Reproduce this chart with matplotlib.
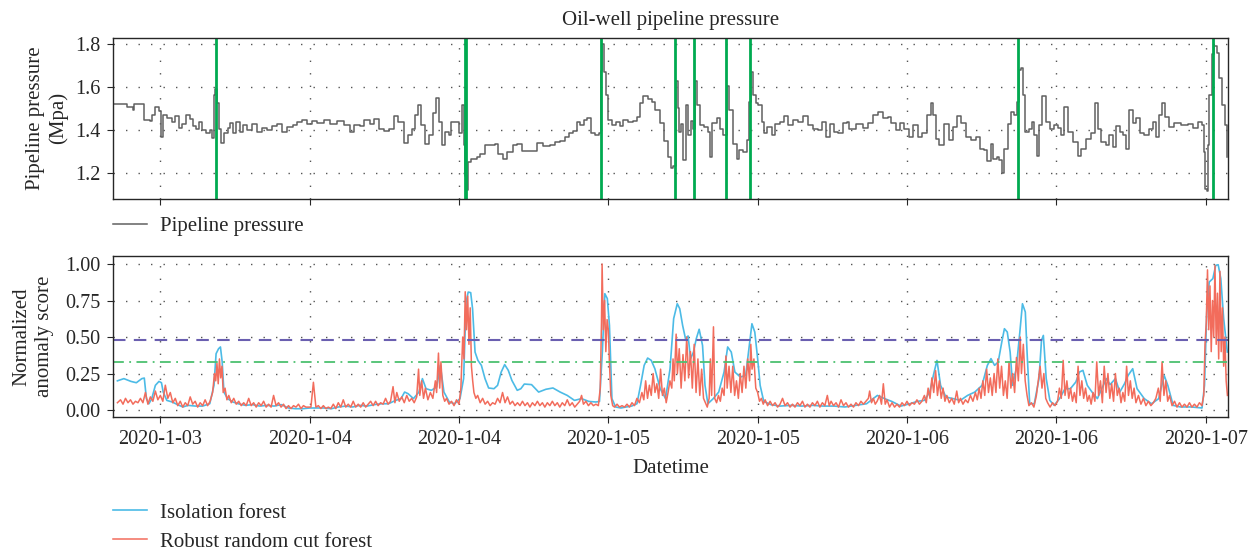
import numpy as np
import pandas as pd
import matplotlib
matplotlib.use('Agg')
import matplotlib.pyplot as plt
import matplotlib.dates as mdates
from matplotlib.ticker import FuncFormatter

plt.rcParams['font.family'] = ['Liberation Serif', 'DejaVu Serif']
plt.rcParams['font.size'] = 15
plt.rcParams['text.color'] = '#262626'
plt.rcParams['axes.labelcolor'] = '#262626'
plt.rcParams['xtick.color'] = '#262626'
plt.rcParams['ytick.color'] = '#262626'

t0 = pd.Timestamp('2020-01-03')

## DATA (hours after 2020-01-03 00:00)

# pipeline pressure (MPa)
p_hours = [8.25, 9.19, 9.32, 9.72, 9.80, 9.91, 10.53, 10.66, 11.14, 11.33, 11.60, 11.87, 12.05, 12.19,
           12.54, 12.94, 13.21, 13.47, 13.74, 14.09, 14.36, 14.63, 14.89, 15.08, 15.35, 15.70, 15.96,
           16.15, 16.29, 16.42, 16.55, 16.71, 16.90, 17.14, 17.41, 17.63, 17.84, 18.11, 18.38, 18.64,
           18.96, 19.37, 19.77, 20.17, 20.57, 20.97, 21.38, 21.78, 22.18, 22.66, 22.98, 23.38, 23.79,
           24.19, 24.59, 25.13, 25.66, 26.20, 26.73, 27.22, 27.54, 28.02, 28.39, 28.82, 29.20, 29.55,
           29.95, 30.35, 30.75, 31.09, 31.56, 31.90, 32.23, 32.49, 32.68, 32.95, 33.30, 33.62, 33.89,
           34.13, 34.37, 34.66, 34.90, 35.17, 35.36, 35.71, 35.98, 36.24, 36.38, 36.51, 36.62, 36.75,
           37.00, 37.45, 37.69, 38.09, 38.49, 38.89, 39.16, 39.51, 39.83, 40.37, 40.69, 41.04, 41.70,
           42.24, 42.78, 43.31, 43.71, 44.12, 44.52, 44.87, 45.19, 45.46, 45.72, 46.04, 46.31, 46.58,
           46.93, 47.28, 47.38, 47.52, 47.65, 47.81, 48.00, 48.27, 48.62, 48.94, 49.21, 49.61, 50.01,
           50.28, 50.54, 50.81, 51.21, 51.48, 51.75, 52.15, 52.47, 52.82, 53.01, 53.22, 53.44, 53.60,
           53.71, 53.84, 54.03, 54.24, 54.43, 54.62, 54.78, 54.97, 55.15, 55.37, 55.69, 55.98, 56.17,
           56.36, 56.71, 56.97, 57.24, 57.51, 57.72, 58.04, 58.31, 58.53, 58.85, 59.12, 59.28, 59.44,
           59.60, 59.87, 60.05, 60.32, 60.51, 60.72, 61.13, 61.39, 61.80, 62.12, 62.47, 62.87, 63.27,
           63.67, 64.07, 64.47, 64.88, 65.14, 65.49, 65.81, 66.14, 66.48, 66.83, 67.15, 67.37, 67.90,
           68.44, 68.84, 69.29, 69.64, 70.04, 70.45, 70.71, 71.12, 71.44, 71.79, 72.13, 72.51, 72.86,
           73.21, 73.58, 73.93, 74.12, 74.33, 74.60, 75.00, 75.35, 75.67, 75.99, 76.34, 76.74, 77.14,
           77.55, 77.87, 78.22, 78.40, 78.75, 78.94, 79.21, 79.42, 79.61, 79.82, 80.09, 80.36, 80.62,
           80.81, 80.97, 81.13, 81.29, 81.51, 81.78, 82.04, 82.23, 82.45, 82.63, 82.85, 83.17, 83.49,
           83.84, 84.11, 84.38, 84.64, 84.91, 85.31, 85.71, 85.98, 86.39, 86.79, 87.14, 87.33, 87.59,
           87.99, 88.26, 88.59, 88.80, 89.12, 89.39, 89.60, 89.87, 90.20, 90.40, 90.72, 91.07, 91.48,
           91.80, 92.01, 92.28, 92.49, 92.76, 93.08, 93.48, 94.02, 94.55, 94.96, 95.36, 95.71, 95.84,
           95.92, 96.08, 96.16, 96.30, 96.51, 96.70, 96.89, 97.10, 97.31, 97.53, 97.69]
pressure = [1.52, 1.52, 1.509, 1.509, 1.493, 1.52, 1.52, 1.446, 1.441, 1.469, 1.509, 1.488, 1.367, 1.469,
            1.457, 1.435, 1.466, 1.409, 1.425, 1.469, 1.45, 1.419, 1.406, 1.438, 1.398, 1.387, 1.398,
            1.362, 1.564, 1.592, 1.524, 1.403, 1.34, 1.387, 1.409, 1.43, 1.383, 1.435, 1.391, 1.422,
            1.398, 1.425, 1.391, 1.409, 1.398, 1.419, 1.425, 1.391, 1.414, 1.422, 1.438, 1.444, 1.428,
            1.441, 1.431, 1.444, 1.428, 1.441, 1.422, 1.391, 1.422, 1.419, 1.447, 1.425, 1.45, 1.406,
            1.394, 1.406, 1.466, 1.435, 1.34, 1.375, 1.406, 1.469, 1.517, 1.422, 1.335, 1.378, 1.477,
            1.548, 1.435, 1.331, 1.391, 1.375, 1.435, 1.435, 1.383, 1.517, 1.328, 1.186, 1.12, 1.249,
            1.265, 1.272, 1.288, 1.328, 1.331, 1.335, 1.288, 1.265, 1.296, 1.331, 1.335, 1.299, 1.299,
            1.34, 1.324, 1.331, 1.343, 1.346, 1.367, 1.383, 1.394, 1.435, 1.422, 1.446, 1.457, 1.383,
            1.375, 1.383, 1.674, 1.80, 1.671, 1.564, 1.446, 1.422, 1.435, 1.419, 1.446, 1.438, 1.441,
            1.461, 1.524, 1.556, 1.545, 1.532, 1.493, 1.43, 1.346, 1.272, 1.22, 1.233, 1.627, 1.501,
            1.391, 1.425, 1.261, 1.517, 1.375, 1.441, 1.406, 1.627, 1.517, 1.422, 1.414, 1.391, 1.272,
            1.43, 1.454, 1.406, 1.375, 1.603, 1.493, 1.335, 1.265, 1.304, 1.296, 1.351, 1.532, 1.671,
            1.564, 1.524, 1.517, 1.438, 1.383, 1.414, 1.378, 1.425, 1.435, 1.466, 1.422, 1.446, 1.435,
            1.466, 1.422, 1.403, 1.398, 1.435, 1.367, 1.425, 1.391, 1.383, 1.43, 1.435, 1.403, 1.425,
            1.409, 1.43, 1.469, 1.485, 1.454, 1.461, 1.43, 1.398, 1.43, 1.406, 1.367, 1.422, 1.367,
            1.387, 1.469, 1.524, 1.469, 1.359, 1.328, 1.425, 1.351, 1.414, 1.466, 1.43, 1.367, 1.351,
            1.367, 1.312, 1.304, 1.252, 1.335, 1.265, 1.272, 1.257, 1.20, 1.312, 1.425, 1.482, 1.469,
            1.532, 1.682, 1.69, 1.564, 1.391, 1.406, 1.438, 1.375, 1.277, 1.422, 1.556, 1.438, 1.406,
            1.422, 1.409, 1.375, 1.509, 1.391, 1.343, 1.28, 1.312, 1.359, 1.383, 1.524, 1.406, 1.343,
            1.328, 1.378, 1.32, 1.419, 1.391, 1.375, 1.312, 1.493, 1.43, 1.457, 1.383, 1.375, 1.403,
            1.435, 1.367, 1.469, 1.524, 1.461, 1.414, 1.43, 1.422, 1.425, 1.409, 1.435, 1.422, 1.296,
            1.123, 1.115, 1.328, 1.564, 1.753, 1.792, 1.76, 1.643, 1.517, 1.422, 1.272]

# detected anomalies
anomaly_hours = [16.49, 36.47, 36.60, 47.45, 53.39, 54.89, 57.48, 59.38, 80.92, 96.58]

# isolation forest score
if_hours = [8.55, 9.07, 9.64, 10.07, 10.51, 10.71, 10.88, 11.08, 11.31, 11.60, 11.89, 12.09, 12.23, 12.52,
            12.95, 13.38, 13.81, 14.24, 14.82, 15.39, 15.97, 16.31, 16.48, 16.68, 16.83, 16.97, 17.11,
            17.40, 17.83, 18.26, 18.84, 19.41, 19.99, 20.56, 21.14, 21.71, 22.29, 22.86, 23.44, 24.01,
            24.59, 25.16, 25.74, 26.31, 26.89, 27.46, 28.03, 28.61, 29.18, 29.76, 30.33, 30.91, 31.34,
            31.63, 31.91, 32.34, 32.78, 33.06, 33.35, 33.78, 34.21, 34.50, 34.79, 35.22, 35.65, 36.08,
            36.37, 36.57, 36.74, 36.94, 37.09, 37.29, 37.52, 37.80, 38.09, 38.38, 38.81, 39.10, 39.39,
            39.67, 39.96, 40.25, 40.68, 40.97, 41.25, 41.83, 42.40, 42.98, 43.55, 44.13, 44.70, 45.28,
            45.85, 46.43, 47.00, 47.29, 47.52, 47.72, 47.92, 48.09, 48.29, 48.58, 49.01, 49.44, 49.87,
            50.30, 50.59, 50.88, 51.16, 51.45, 51.74, 52.17, 52.60, 52.96, 53.25, 53.54, 53.74, 53.97,
            54.20, 54.41, 54.61, 54.84, 55.07, 55.30, 55.57, 55.77, 56.00, 56.43, 56.87, 57.30, 57.59,
            57.88, 58.17, 58.61, 59.04, 59.33, 59.54, 59.77, 60.00, 60.20, 60.49, 61.07, 61.80, 62.67,
            63.54, 64.41, 65.28, 66.14, 67.01, 67.88, 68.75, 69.62, 70.20, 70.78, 71.51, 72.23, 72.81,
            73.39, 73.83, 74.12, 74.41, 74.70, 75.13, 75.71, 76.29, 76.87, 77.45, 78.03, 78.46, 78.75,
            79.04, 79.33, 79.62, 79.83, 80.06, 80.29, 80.49, 80.78, 81.07, 81.28, 81.51, 81.65, 81.86,
            82.23, 82.61, 82.81, 82.96, 83.19, 83.48, 83.83, 84.26, 84.70, 85.13, 85.57, 85.86, 86.14,
            86.49, 86.87, 87.30, 87.65, 88.03, 88.32, 88.75, 89.10, 89.48, 89.77, 90.14, 90.49, 91.07,
            91.65, 92.23, 92.67, 92.96, 93.39, 93.97, 94.84, 95.71, 95.91, 96.09, 96.29, 96.58, 96.81,
            97.01, 97.22, 97.45, 97.74]
if_score = [0.20, 0.215, 0.196, 0.187, 0.215, 0.219, 0.078, 0.043, 0.078, 0.169, 0.196, 0.187, 0.123, 0.066,
            0.055, 0.037, 0.021, 0.032, 0.027, 0.027, 0.043, 0.169, 0.386, 0.42, 0.432, 0.329, 0.123,
            0.078, 0.055, 0.043, 0.032, 0.037, 0.027, 0.032, 0.027, 0.037, 0.014, 0.009, 0.009, 0.014,
            0.014, 0.014, 0.009, 0.021, 0.027, 0.021, 0.032, 0.027, 0.037, 0.043, 0.043, 0.066, 0.078,
            0.123, 0.112, 0.078, 0.123, 0.215, 0.146, 0.135, 0.158, 0.306, 0.123, 0.055, 0.043, 0.078,
            0.215, 0.74, 0.808, 0.804, 0.694, 0.397, 0.34, 0.306, 0.215, 0.151, 0.146, 0.169, 0.26,
            0.311, 0.272, 0.203, 0.135, 0.146, 0.178, 0.174, 0.123, 0.142, 0.151, 0.123, 0.10, 0.066,
            0.078, 0.059, 0.055, 0.059, 0.397, 0.797, 0.763, 0.58, 0.078, 0.021, 0.014, 0.021, 0.027,
            0.043, 0.169, 0.306, 0.356, 0.34, 0.283, 0.146, 0.078, 0.283, 0.626, 0.728, 0.694, 0.58,
            0.489, 0.507, 0.352, 0.397, 0.489, 0.553, 0.443, 0.169, 0.043, 0.078, 0.123, 0.26, 0.432,
            0.397, 0.26, 0.226, 0.237, 0.443, 0.591, 0.534, 0.352, 0.169, 0.059, 0.037, 0.027, 0.032,
            0.027, 0.032, 0.027, 0.027, 0.021, 0.032, 0.043, 0.10, 0.078, 0.059, 0.027, 0.043, 0.059,
            0.066, 0.123, 0.237, 0.34, 0.169, 0.089, 0.078, 0.066, 0.10, 0.123, 0.169, 0.306, 0.352,
            0.306, 0.329, 0.466, 0.557, 0.534, 0.397, 0.169, 0.283, 0.534, 0.728, 0.671, 0.397, 0.043,
            0.043, 0.215, 0.477, 0.511, 0.215, 0.066, 0.032, 0.078, 0.146, 0.146, 0.192, 0.26, 0.272,
            0.169, 0.123, 0.078, 0.146, 0.215, 0.174, 0.215, 0.123, 0.18, 0.237, 0.283, 0.146, 0.078,
            0.043, 0.078, 0.237, 0.169, 0.032, 0.021, 0.021, 0.014, 0.169, 0.671, 0.877, 0.90, 0.991,
            0.995, 0.90, 0.626, 0.397]

# robust random cut forest score
rrcf_hours = [8.55, 8.8, 9.0, 9.2, 9.4, 9.6, 9.8, 10.0, 10.2, 10.4, 10.6, 10.8, 11.0, 11.2, 11.4, 11.6,
              11.8, 12.0, 12.2, 12.4, 12.6, 12.8, 13.0, 13.2, 13.4, 13.6, 13.8, 14.0, 14.2, 14.4, 14.6,
              14.8, 15.0, 15.2, 15.4, 15.6, 15.8, 16.0, 16.2, 16.35, 16.45, 16.55, 16.65, 16.75, 16.85,
              16.95, 17.05, 17.2, 17.35, 17.5, 17.7, 17.9, 18.1, 18.3, 18.5, 18.7, 18.9, 19.1, 19.3,
              19.5, 19.7, 19.9, 20.1, 20.3, 20.5, 20.7, 20.9, 21.1, 21.3, 21.5, 21.7, 21.9, 22.1, 22.3,
              22.5, 22.7, 22.9, 23.1, 23.3, 23.5, 23.7, 23.9, 24.1, 24.3, 24.5, 24.7, 24.9, 25.1, 25.3,
              25.5, 25.7, 25.9, 26.1, 26.3, 26.5, 26.7, 26.9, 27.1, 27.3, 27.5, 27.7, 27.9, 28.1, 28.3,
              28.5, 28.7, 28.9, 29.1, 29.3, 29.5, 29.7, 29.9, 30.1, 30.3, 30.5, 30.7, 30.85, 31.0, 31.2,
              31.4, 31.6, 31.8, 32.0, 32.2, 32.4, 32.6, 32.75, 32.85, 33.0, 33.15, 33.3, 33.5, 33.7,
              33.9, 34.1, 34.2, 34.35, 34.45, 34.55, 34.7, 34.85, 35.0, 35.2, 35.4, 35.6, 35.8, 36.0,
              36.15, 36.3, 36.4, 36.5, 36.6, 36.7, 36.8, 36.9, 37.0, 37.1, 37.2, 37.35, 37.5, 37.7,
              37.9, 38.1, 38.3, 38.5, 38.7, 38.9, 39.1, 39.3, 39.5, 39.7, 39.9, 40.1, 40.3, 40.5, 40.7,
              40.9, 41.1, 41.3, 41.5, 41.7, 41.9, 42.1, 42.3, 42.5, 42.7, 42.9, 43.1, 43.3, 43.5, 43.7,
              43.9, 44.1, 44.3, 44.5, 44.7, 44.9, 45.1, 45.3, 45.5, 45.7, 45.85, 46.0, 46.2, 46.4, 46.6,
              46.8, 47.0, 47.2, 47.35, 47.45, 47.5, 47.6, 47.7, 47.8, 47.9, 48.0, 48.1, 48.2, 48.35,
              48.5, 48.7, 48.9, 49.1, 49.3, 49.5, 49.7, 49.9, 50.1, 50.3, 50.5, 50.7, 50.85, 51.0, 51.15,
              51.3, 51.45, 51.6, 51.75, 51.9, 52.05, 52.2, 52.35, 52.5, 52.65, 52.8, 52.95, 53.1, 53.2,
              53.3, 53.45, 53.55, 53.7, 53.85, 54.0, 54.15, 54.3, 54.45, 54.6, 54.75, 54.9, 55.05, 55.2,
              55.35, 55.5, 55.65, 55.8, 55.95, 56.1, 56.2, 56.3, 56.45, 56.55, 56.7, 56.85, 57.0, 57.15,
              57.3, 57.45, 57.55, 57.7, 57.85, 58.0, 58.15, 58.3, 58.45, 58.6, 58.75, 58.9, 59.05, 59.2,
              59.35, 59.45, 59.55, 59.7, 59.85, 60.0, 60.15, 60.3, 60.45, 60.6, 60.8, 61.0, 61.2, 61.4,
              61.6, 61.8, 62.0, 62.2, 62.4, 62.6, 62.8, 63.0, 63.2, 63.4, 63.6, 63.8, 64.0, 64.2, 64.4,
              64.6, 64.8, 65.0, 65.2, 65.4, 65.6, 65.75, 65.9, 66.1, 66.3, 66.5, 66.7, 66.9, 67.1, 67.3,
              67.5, 67.7, 67.9, 68.1, 68.3, 68.5, 68.7, 68.9, 69.0, 69.15, 69.3, 69.45, 69.6, 69.8, 69.95,
              70.1, 70.25, 70.4, 70.6, 70.8, 71.0, 71.2, 71.4, 71.6, 71.8, 72.0, 72.2, 72.4, 72.6, 72.8,
              73.0, 73.2, 73.4, 73.55, 73.7, 73.85, 74.0, 74.15, 74.3, 74.45, 74.6, 74.75, 74.9, 75.05,
              75.2, 75.4, 75.6, 75.8, 76.0, 76.15, 76.3, 76.5, 76.7, 76.9, 77.1, 77.3, 77.5, 77.65, 77.8,
              77.95, 78.1, 78.25, 78.4, 78.55, 78.7, 78.85, 79.0, 79.15, 79.3, 79.45, 79.6, 79.75, 79.9,
              80.05, 80.2, 80.35, 80.5, 80.65, 80.8, 80.95, 81.1, 81.2, 81.35, 81.5, 81.65, 81.8, 82.0,
              82.2, 82.4, 82.55, 82.7, 82.85, 83.0, 83.15, 83.3, 83.5, 83.7, 83.9, 84.1, 84.25, 84.4,
              84.55, 84.7, 84.85, 85.0, 85.15, 85.3, 85.45, 85.6, 85.75, 85.9, 86.05, 86.2, 86.35, 86.5,
              86.65, 86.8, 86.95, 87.1, 87.25, 87.4, 87.55, 87.7, 87.85, 88.0, 88.15, 88.3, 88.45, 88.6,
              88.75, 88.9, 89.05, 89.2, 89.35, 89.5, 89.65, 89.8, 89.95, 90.1, 90.25, 90.4, 90.6, 90.8,
              91.0, 91.2, 91.4, 91.6, 91.8, 92.0, 92.2, 92.35, 92.5, 92.65, 92.8, 92.95, 93.1, 93.3,
              93.5, 93.7, 93.9, 94.1, 94.3, 94.5, 94.7, 94.9, 95.1, 95.3, 95.5, 95.7, 95.85, 95.95,
              96.05, 96.15, 96.25, 96.35, 96.45, 96.55, 96.65, 96.75, 96.85, 96.95, 97.05, 97.15, 97.25,
              97.35, 97.45, 97.55, 97.65, 97.75]
rrcf_score = [0.05, 0.07, 0.04, 0.08, 0.05, 0.07, 0.04, 0.06, 0.05, 0.08, 0.05, 0.12, 0.04, 0.09, 0.06, 0.13,
              0.07, 0.10, 0.06, 0.17, 0.08, 0.12, 0.05, 0.08, 0.03, 0.06, 0.02, 0.05, 0.03, 0.09, 0.04,
              0.06, 0.02, 0.05, 0.03, 0.07, 0.03, 0.06, 0.12, 0.25, 0.20, 0.32, 0.18, 0.35, 0.22,
              0.30, 0.12, 0.15, 0.07, 0.10, 0.05, 0.08, 0.04, 0.06, 0.03, 0.05, 0.03, 0.08, 0.03,
              0.05, 0.02, 0.05, 0.03, 0.06, 0.02, 0.04, 0.02, 0.10, 0.03, 0.05, 0.02, 0.04, 0.01, 0.03,
              0.01, 0.03, 0.02, 0.04, 0.01, 0.03, 0.02, 0.02, 0.02, 0.19, 0.02, 0.03, 0.01, 0.03, 0.01,
              0.02, 0.01, 0.04, 0.01, 0.05, 0.02, 0.07, 0.02, 0.04, 0.02, 0.06, 0.02, 0.04, 0.02, 0.05,
              0.02, 0.04, 0.06, 0.03, 0.06, 0.03, 0.05, 0.04, 0.08, 0.04, 0.06, 0.16, 0.05, 0.12, 0.06,
              0.09, 0.05, 0.10, 0.06, 0.08, 0.05, 0.09, 0.28, 0.10, 0.20, 0.08, 0.15, 0.07, 0.12,
              0.08, 0.20, 0.12, 0.39, 0.15, 0.33, 0.10, 0.06, 0.08, 0.04, 0.06, 0.03, 0.07, 0.04,
              0.15, 0.50, 0.35, 0.81, 0.55, 0.78, 0.45, 0.70, 0.30, 0.20, 0.12, 0.08, 0.10, 0.05,
              0.08, 0.04, 0.06, 0.03, 0.05, 0.04, 0.08, 0.05, 0.12, 0.05, 0.09, 0.04, 0.06, 0.03, 0.05,
              0.03, 0.06, 0.03, 0.05, 0.02, 0.05, 0.03, 0.06, 0.03, 0.05, 0.02, 0.05, 0.03, 0.06, 0.03,
              0.05, 0.02, 0.05, 0.03, 0.07, 0.03, 0.05, 0.02, 0.04, 0.06, 0.10, 0.04, 0.06, 0.03, 0.05,
              0.03, 0.04, 0.03, 0.15, 0.60, 1.00, 0.55, 0.75, 0.40, 0.62, 0.55, 0.30, 0.10, 0.03,
              0.02, 0.04, 0.02, 0.03, 0.02, 0.04, 0.02, 0.05, 0.03, 0.08, 0.05, 0.12, 0.07, 0.20, 0.08,
              0.17, 0.10, 0.25, 0.12, 0.18, 0.08, 0.28, 0.10, 0.15, 0.05, 0.12, 0.20, 0.15, 0.35,
              0.20, 0.52, 0.25, 0.42, 0.15, 0.38, 0.20, 0.50, 0.22, 0.40, 0.15, 0.45, 0.12, 0.35,
              0.10, 0.28, 0.08, 0.05, 0.02, 0.08, 0.35, 0.10, 0.57, 0.08, 0.05, 0.10, 0.06, 0.15,
              0.10, 0.37, 0.15, 0.30, 0.12, 0.30, 0.10, 0.20, 0.08, 0.25, 0.12, 0.30, 0.15, 0.35,
              0.20, 0.45, 0.28, 0.35, 0.15, 0.12, 0.06, 0.08, 0.04, 0.07, 0.03, 0.06, 0.03, 0.05,
              0.02, 0.04, 0.08, 0.03, 0.05, 0.02, 0.04, 0.02, 0.05, 0.03, 0.06, 0.02, 0.04, 0.02, 0.05,
              0.03, 0.06, 0.02, 0.05, 0.03, 0.10, 0.03, 0.06, 0.03, 0.05, 0.02, 0.07, 0.03, 0.05, 0.02,
              0.04, 0.02, 0.05, 0.03, 0.06, 0.04, 0.06, 0.08, 0.13, 0.05, 0.08, 0.04, 0.06, 0.10, 0.04,
              0.18, 0.04, 0.07, 0.02, 0.05, 0.02, 0.04, 0.02, 0.05, 0.03, 0.06, 0.03, 0.05, 0.04, 0.07,
              0.04, 0.06, 0.10, 0.05, 0.15, 0.08, 0.22, 0.12, 0.27, 0.10, 0.20, 0.08, 0.15, 0.06,
              0.10, 0.05, 0.08, 0.04, 0.13, 0.05, 0.08, 0.04, 0.07, 0.05, 0.10, 0.06, 0.12, 0.07, 0.15,
              0.08, 0.20, 0.10, 0.28, 0.12, 0.22, 0.10, 0.25, 0.12, 0.35, 0.15, 0.30, 0.10, 0.20,
              0.08, 0.33, 0.15, 0.25, 0.12, 0.36, 0.20, 0.50, 0.25, 0.45, 0.20, 0.10, 0.03, 0.05,
              0.02, 0.10, 0.20, 0.30, 0.15, 0.25, 0.08, 0.05, 0.02, 0.05, 0.03, 0.06, 0.15, 0.08,
              0.34, 0.10, 0.20, 0.08, 0.15, 0.06, 0.12, 0.05, 0.30, 0.10, 0.20, 0.08, 0.15, 0.06,
              0.10, 0.04, 0.12, 0.06, 0.33, 0.10, 0.20, 0.05, 0.30, 0.12, 0.25, 0.08, 0.18, 0.06,
              0.25, 0.10, 0.15, 0.05, 0.12, 0.06, 0.30, 0.10, 0.20, 0.08, 0.15, 0.05, 0.10, 0.04,
              0.08, 0.03, 0.06, 0.03, 0.05, 0.08, 0.15, 0.06, 0.33, 0.10, 0.20, 0.06, 0.10, 0.03,
              0.06, 0.02, 0.05, 0.02, 0.04, 0.02, 0.05, 0.02, 0.04, 0.02, 0.05, 0.03, 0.10, 0.45,
              0.60, 0.96, 0.55, 0.85, 0.40, 0.75, 0.50, 0.99, 0.45, 0.80, 0.35, 0.95, 0.40,
              0.70, 0.30, 0.50, 0.20, 0.10]

# decision thresholds
thr_if = 0.48
thr_rrcf = 0.33


def to_time(h):
    return t0 + pd.to_timedelta(np.asarray(h), unit='h')


def date_label(x, pos):
    d = mdates.num2date(x)
    return f'{d.year}-{d.month}-{d.day:02d}'


grid_style = dict(color='#555555', linestyle=(0, (1, 8)), linewidth=1.0)

fig = plt.figure(figsize=(12.59, 5.51), dpi=100)
ax1 = fig.add_axes([0.0898, 0.6394, 0.8856, 0.2922])
ax2 = fig.add_axes([0.0898, 0.2426, 0.8856, 0.2928], sharex=ax1)

# top: pressure
ax1.plot(to_time(p_hours), pressure, color='#606060', lw=1.1, drawstyle='steps-post',
         label='Pipeline pressure')
for h in anomaly_hours:
    ax1.axvline(to_time(h), color='#00aa50', lw=2.0)
ax1.set_ylim(1.078, 1.831)
ax1.set_yticks([1.2, 1.4, 1.6, 1.8])
ax1.set_title('Oil-well pipeline pressure', fontsize=15, pad=9)
ax1.set_ylabel('Pipeline pressure\n(Mpa)', fontsize=15, linespacing=1.25)
ax1.yaxis.set_label_coords(-0.04, 0.5)
ax1.grid(True, **grid_style)
ax1.tick_params(labelbottom=False)
ax1.legend(loc='upper left', bbox_to_anchor=(0, -0.11), frameon=False, borderaxespad=0,
           borderpad=0, fontsize=15, handlelength=1.65, handletextpad=0.6)

# bottom: anomaly scores
ax2.plot(to_time(if_hours), if_score, color='#4cbbe6', lw=1.2, label='Isolation forest')
ax2.plot(to_time(rrcf_hours), rrcf_score, color='#f26c5c', lw=1.1, label='Robust random cut forest')
ax2.axhline(thr_if, color='#6a5fb0', lw=1.5, linestyle=(0, (6, 4)))
ax2.axhline(thr_rrcf, color='#4cc070', lw=1.3, linestyle=(0, (6, 3, 1, 3)))
ax2.set_ylim(-0.05, 1.055)
ax2.set_yticks([0.0, 0.25, 0.5, 0.75, 1.0])
ax2.yaxis.set_major_formatter(FuncFormatter(lambda v, p: f'{v:.2f}'))
ax2.set_ylabel('Normalized\nanomaly score', fontsize=15, linespacing=1.25)
ax2.yaxis.set_label_coords(-0.053, 0.5)
ax2.set_xlabel('Datetime', fontsize=15, labelpad=7)
ax2.grid(True, **grid_style)

ax2.set_xlim(to_time(8.2), to_time(97.8))
ax2.xaxis.set_major_locator(mdates.HourLocator(byhour=[0, 12]))
ax2.xaxis.set_major_formatter(FuncFormatter(date_label))

for ax in (ax1, ax2):
    for s in ax.spines.values():
        s.set_color('#262626')
        s.set_linewidth(1.0)
    ax.tick_params(direction='out', length=4, width=0.8, labelsize=14.5, pad=5)

fig.legend(handles=ax2.get_lines()[:2], loc='upper left', bbox_to_anchor=(0.0898, 0.087),
           bbox_transform=fig.transFigure, frameon=False, borderaxespad=0, borderpad=0,
           fontsize=15, labelspacing=0.45, handlelength=1.65, handletextpad=0.6)

fig.savefig('out.png', dpi=100)
